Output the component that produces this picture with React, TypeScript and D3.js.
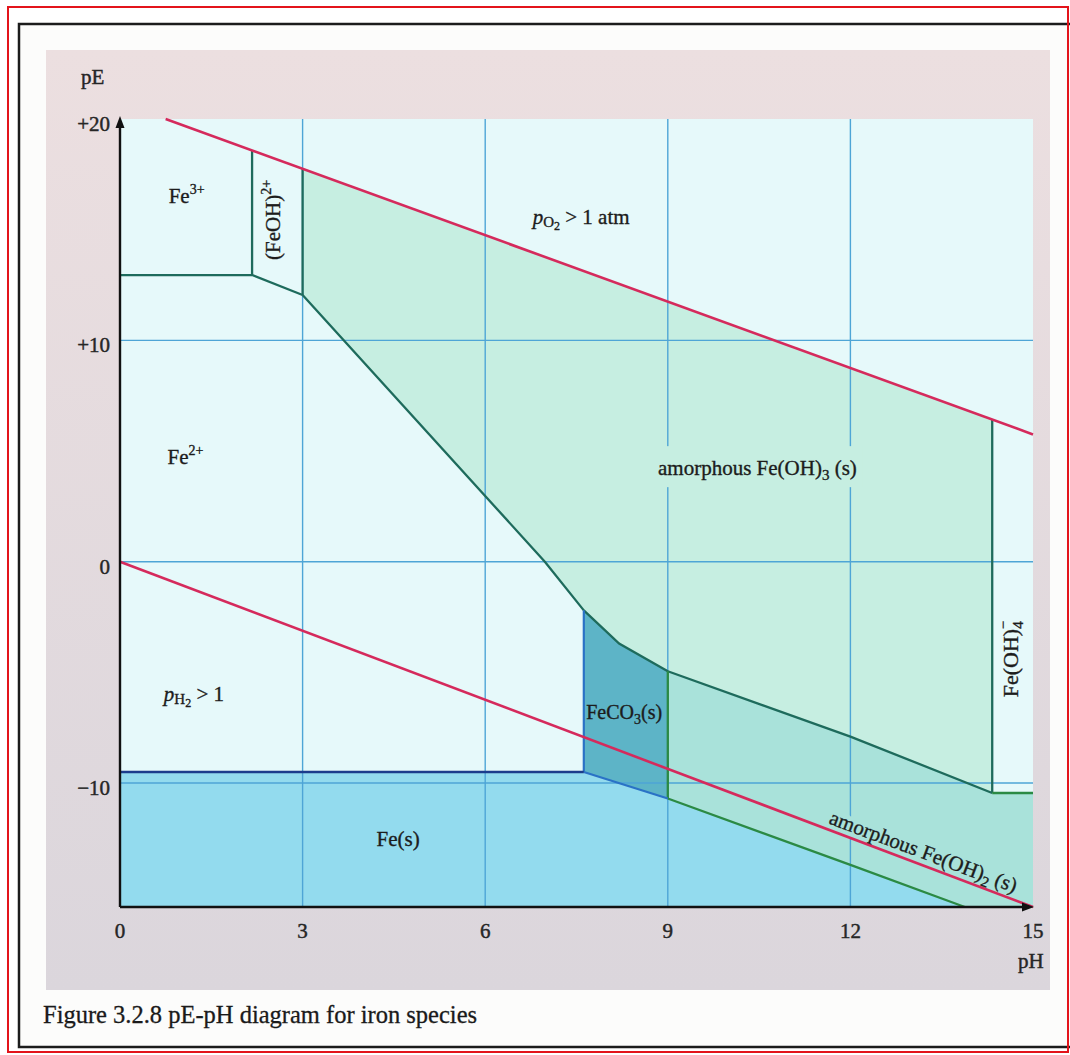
import React from 'react';
import * as d3 from 'd3';

const W = 1070;
const H = 1055;

// axes
const PH_DOMAIN = [0, 15];
const PE_DOMAIN = [-15.6, 20];
const PH_TICKS = [0, 3, 6, 9, 12, 15];
const PE_TICKS = [20, 10, 0, -10];
const PE_TICK_LABELS = ['+20', '+10', '0', '\u221210'];
const PH_GRID = [3, 6, 9, 12];
const PE_GRID = [10, 0, -10];

// water stability limits [pH, pE]
const O2_LINE = [[0.75, 20], [15, 5.75]];
const H2_LINE = [[0, 0], [15, -15.6]];

// species boundaries [pH, pE]
const FE3_FE2 = [[0, 12.95], [2.17, 12.95]];
const FE3_FEOH = [[2.17, 18.58], [2.17, 12.95]];
const FEOH_FE2 = [[2.17, 12.95], [3, 12.05]];
const FEOH_FEOH3 = [[3, 17.75], [3, 12.05]];
const FE2_FEOH3 = [[3, 12.05], [6.98, 0], [7.62, -2.2]];
const FECO3_FEOH3 = [[7.62, -2.2], [8.2, -3.7], [9, -4.95]];
const FEOH2_FEOH3 = [[9, -4.95], [12, -7.9], [14.33, -10.45]];
const FEOH4_FEOH3 = [[14.33, 6.42], [14.33, -10.45]];
const FEOH4_FEOH2 = [[14.33, -10.45], [15, -10.45]];
const FE2_FECO3 = [[7.62, -2.2], [7.62, -9.5]];
const FE2_FES = [[0, -9.5], [7.62, -9.5]];
const FECO3_FES = [[7.62, -9.5], [9, -10.7]];
const FECO3_FEOH2 = [[9, -4.95], [9, -10.7]];
const FEOH2_FES = [[9, -10.7], [12, -13.7], [13.88, -15.6]];

// label anchors [pH, pE]
const LBL_FE3 = [0.8, 16.2];
const LBL_FEOH = [2.63, 15.44];
const LBL_PO2 = [6.78, 15.26];
const LBL_FE2 = [0.78, 4.41];
const LBL_FEOH3 = [8.84, 3.91];
const LBL_FEOH4 = [14.75, -4.4];
const LBL_PH2 = [0.72, -6.3];
const LBL_FES = [4.57, -12.85];
const LBL_FECO3 = [7.66, -7.1];
const LBL_FEOH2 = [13.16, -13.39];

const rev = (a: number[][]) => a.slice().reverse();

const REGION_FEOH3 = [
  FEOH_FEOH3[0],
  FEOH4_FEOH3[0],
  FEOH4_FEOH3[1],
  ...rev(FEOH2_FEOH3).slice(1),
  ...rev(FECO3_FEOH3).slice(1),
  ...rev(FE2_FEOH3).slice(1),
];
const REGION_FECO3 = [...FECO3_FEOH3, FECO3_FEOH2[1], FECO3_FES[0]];
const REGION_FEOH2 = [
  ...FEOH2_FEOH3,
  FEOH4_FEOH2[1],
  [PH_DOMAIN[1], PE_DOMAIN[0]],
  ...rev(FEOH2_FES),
];
const REGION_FES = [
  ...FE2_FES,
  FECO3_FES[1],
  ...FEOH2_FES.slice(1),
  [PH_DOMAIN[0], PE_DOMAIN[0]],
];

const FONT = '"Liberation Serif", "Times New Roman", serif';

export default function App() {
  const x = d3.scaleLinear().domain(PH_DOMAIN).range([120, 1033]);
  const y = d3.scaleLinear().domain(PE_DOMAIN).range([907, 119]);
  const line = d3
    .line<number[]>()
    .x((d) => x(d[0]))
    .y((d) => y(d[1]));
  const poly = (pts: number[][]) => line(pts) + 'Z';

  const green = '#1e6b5c';
  const lightGreen = '#2b8a44';
  const blue = '#2a72c6';
  const navy = '#1b3c8c';
  const red = '#d52a5c';
  const grid = '#4ea5d6';

  const fillBg = '#e6f9fa';
  const fillFeOH3 = '#c6eee1';
  const fillFeOH2 = '#a9e2da';
  const fillFeCO3 = '#5db4c7';
  const fillFes = '#93dbee';

  const x0 = x(PH_DOMAIN[0]);
  const x1 = x(PH_DOMAIN[1]);
  const yTop = y(PE_DOMAIN[1]);
  const yBot = y(PE_DOMAIN[0]);

  const tx = (p: number[]) => x(p[0]);
  const ty = (p: number[]) => y(p[1]);

  const fe2Label = (
    <>
      amorphous Fe(OH)
      <tspan fontSize={15} dy={5}>2</tspan>
      <tspan dy={-5}> (s)</tspan>
    </>
  );

  return (
    <svg
      width={W}
      height={H}
      style={{ position: 'absolute', left: 0, top: 0, display: 'block' }}
      fontFamily={FONT}
    >
      <defs>
        <linearGradient id="panel" x1="0" y1="0" x2="0" y2="1">
          <stop offset="0" stopColor="#ecdfe0" />
          <stop offset="1" stopColor="#dbd6dc" />
        </linearGradient>
      </defs>
      <rect x={0} y={0} width={W} height={H} fill="#ffffff" />
      <rect x={19} y={24} width={1080} height={1023} fill="#fcfcfb" stroke="#1c1c1c" strokeWidth={2.5} />
      <rect x={46} y={50} width={1004} height={940} fill="url(#panel)" />

      {/* plot background */}
      <rect x={x0} y={yTop} width={x1 - x0} height={yBot - yTop} fill={fillBg} />

      {/* regions */}
      <path d={poly(REGION_FEOH3)} fill={fillFeOH3} />
      <path d={poly(REGION_FEOH2)} fill={fillFeOH2} />
      <path d={poly(REGION_FES)} fill={fillFes} />
      <path d={poly(REGION_FECO3)} fill={fillFeCO3} />

      {/* grid */}
      {PH_GRID.map((v) => (
        <line key={'gx' + v} x1={x(v)} x2={x(v)} y1={yTop} y2={yBot} stroke={grid} strokeWidth={1.4} />
      ))}
      {PE_GRID.map((v) => (
        <line key={'gy' + v} x1={x0} x2={x1} y1={y(v)} y2={y(v)} stroke={grid} strokeWidth={1.4} />
      ))}

      {/* gaps in grid behind labels */}
      <rect x={tx(LBL_FEOH3) - 4} y={ty(LBL_FEOH3) - 29} width={208} height={41} fill={fillFeOH3} />
      <text
        transform={`translate(${tx(LBL_FEOH2)},${ty(LBL_FEOH2)}) rotate(20.5)`}
        textAnchor="middle"
        fontSize={21}
        fill={fillFeOH2}
        stroke={fillFeOH2}
        strokeWidth={10}
        strokeLinejoin="round"
      >
        {fe2Label}
      </text>

      {/* boundaries */}
      {[FE3_FE2, FE3_FEOH, FEOH_FE2, FEOH_FEOH3, FE2_FEOH3, FECO3_FEOH3, FEOH2_FEOH3, FEOH4_FEOH3].map((b, i) => (
        <path key={'b' + i} d={line(b) || ''} fill="none" stroke={green} strokeWidth={2.3} />
      ))}
      {[FECO3_FEOH2, FEOH2_FES, FEOH4_FEOH2].map((b, i) => (
        <path key={'g' + i} d={line(b) || ''} fill="none" stroke={lightGreen} strokeWidth={2.3} />
      ))}
      {[FE2_FECO3, FECO3_FES].map((b, i) => (
        <path key={'c' + i} d={line(b) || ''} fill="none" stroke={blue} strokeWidth={2.2} />
      ))}
      <path d={line(FE2_FES) || ''} fill="none" stroke={navy} strokeWidth={2.6} />

      {/* water lines */}
      <path d={line(O2_LINE) || ''} fill="none" stroke={red} strokeWidth={2.6} />
      <path d={line(H2_LINE) || ''} fill="none" stroke={red} strokeWidth={2.6} />

      {/* axes */}
      <line x1={x0} x2={x0} y1={yBot} y2={yTop + 4} stroke="#111" strokeWidth={2.4} />
      <path d={`M${x0},${yTop - 3} L${x0 - 4.5},${yTop + 9} L${x0 + 4.5},${yTop + 9} Z`} fill="#111" />
      <line x1={x0} x2={x1 - 4} y1={yBot} y2={yBot} stroke="#111" strokeWidth={2.4} />
      <path d={`M${x1 + 1},${yBot} L${x1 - 11},${yBot - 4.5} L${x1 - 11},${yBot + 4.5} Z`} fill="#111" />

      {/* tick labels */}
      <g fontSize={21} fill="#262626" stroke="#262626" strokeWidth={0.45}>
        {PE_TICKS.map((v, i) => (
          <text key={'ty' + v} x={110} y={y(v) + 12} textAnchor="end">
            {PE_TICK_LABELS[i]}
          </text>
        ))}
        {PH_TICKS.map((v) => (
          <text key={'tx' + v} x={x(v)} y={938} textAnchor="middle">
            {v}
          </text>
        ))}
        <text x={81} y={84}>pE</text>
        <text x={1018} y={968}>pH</text>
      </g>

      {/* region labels */}
      <g fontSize={21} fill="#1c1c1c" stroke="#1c1c1c" strokeWidth={0.35}>
        <text x={tx(LBL_FE3)} y={ty(LBL_FE3)}>
          Fe<tspan fontSize={14} dy={-9}>3+</tspan>
        </text>
        <text transform={`translate(${tx(LBL_FEOH)},${ty(LBL_FEOH)}) rotate(-90)`} textAnchor="middle">
          (FeOH)<tspan fontSize={14} dy={-9}>2+</tspan>
        </text>
        <text x={tx(LBL_PO2)} y={ty(LBL_PO2)}>
          <tspan fontStyle="italic">p</tspan>
          <tspan fontSize={15} dy={3}>O</tspan>
          <tspan fontSize={12} dy={3}>2</tspan>
          <tspan dy={-6}>{'  > 1 atm'}</tspan>
        </text>
        <text x={tx(LBL_FE2)} y={ty(LBL_FE2)}>
          Fe<tspan fontSize={14} dy={-9}>2+</tspan>
        </text>
        <text x={tx(LBL_FEOH3)} y={ty(LBL_FEOH3)}>
          amorphous Fe(OH)<tspan fontSize={15} dy={5}>3</tspan>
          <tspan dy={-5}> (s)</tspan>
        </text>
        <text transform={`translate(${tx(LBL_FEOH4)},${ty(LBL_FEOH4)}) rotate(-90)`} textAnchor="middle" fontSize={22}>
          Fe(OH)<tspan fontSize={15} dy={5}>4</tspan>
          <tspan fontSize={15} dx={-8} dy={-15}>{'\u2212'}</tspan>
        </text>
        <text x={tx(LBL_PH2)} y={ty(LBL_PH2)}>
          <tspan fontStyle="italic">p</tspan>
          <tspan fontSize={15} dy={3}>H</tspan>
          <tspan fontSize={12} dy={3}>2</tspan>
          <tspan dy={-6}>{'  > 1'}</tspan>
        </text>
        <text x={tx(LBL_FES)} y={ty(LBL_FES)} textAnchor="middle">
          Fe(s)
        </text>
        <text x={tx(LBL_FECO3)} y={ty(LBL_FECO3)} fontSize={20}>
          FeCO<tspan fontSize={14} dy={5}>3</tspan>
          <tspan dy={-5}>(s)</tspan>
        </text>
        <text transform={`translate(${tx(LBL_FEOH2)},${ty(LBL_FEOH2)}) rotate(20.5)`} textAnchor="middle">
          {fe2Label}
        </text>
      </g>

      {/* caption */}
      <text x={43} y={1023} fontSize={24.5} fill="#1a1a1a" stroke="#1a1a1a" strokeWidth={0.3}>
        Figure 3.2.8 pE-pH diagram for iron species
      </text>

      {/* outer red border */}
      <rect x={8} y={7} width={1060} height={1045} fill="none" stroke="#e3141b" strokeWidth={2} />
    </svg>
  );
}
